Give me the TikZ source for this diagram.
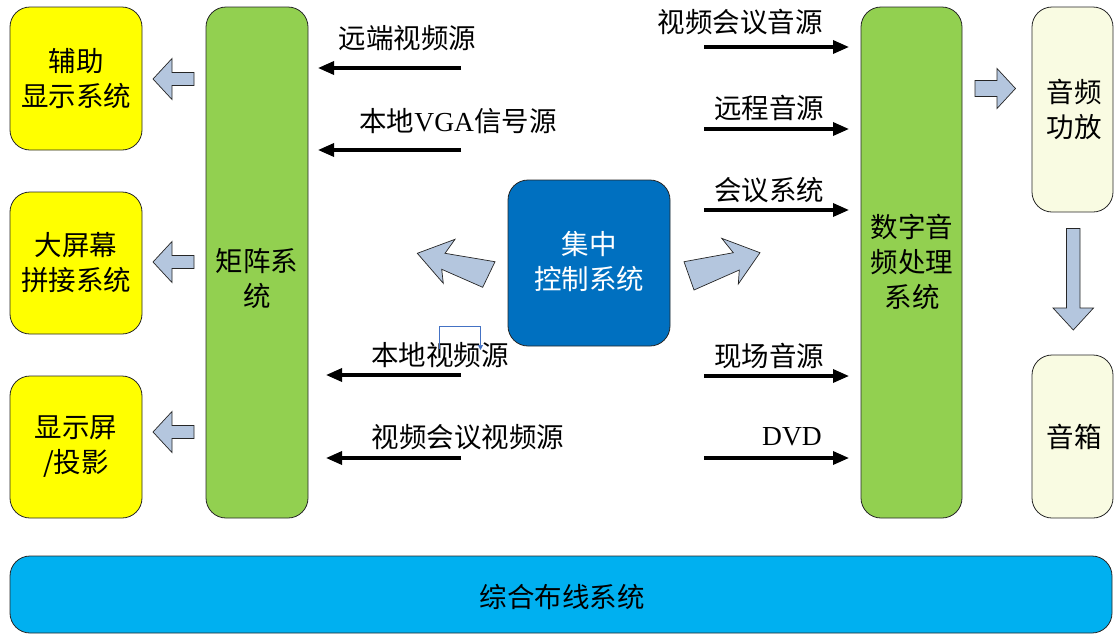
\documentclass[tikz,border=0pt]{standalone}
\usepackage{fontspec}
\setmainfont{Noto Sans CJK SC}
\newfontfamily\lat{Liberation Serif}
\usetikzlibrary{arrows.meta}
\definecolor{cyel}{RGB}{255,255,0}
\definecolor{cgreen}{RGB}{146,208,80}
\definecolor{cblue}{RGB}{0,112,192}
\definecolor{ccyan}{RGB}{0,176,240}
\definecolor{clight}{RGB}{249,251,226}
\definecolor{carrow}{RGB}{180,198,222}
\definecolor{cline}{RGB}{68,114,196}
\tikzset{
  box/.style={draw=black!85, line width=0.8pt, rounded corners=20pt, inner sep=0pt},
  txt/.style={font=\fontsize{27.5}{35}\selectfont, align=center, inner sep=0pt},
  sig/.style={line width=3.3pt, -{Triangle[length=16pt,width=13pt]}},
  blk/.style={draw=black!85, line width=0.7pt, fill=carrow, line join=miter},
}
\begin{document}
\begin{tikzpicture}[x=1pt,y=-1pt]
\useasboundingbox (0,0) rectangle (1114,635);
% left display boxes
\node[box, fill=cyel, minimum width=132pt, minimum height=143pt] (aux) at (76,78.5) {};
\node[txt] (auxt) at (aux.center) {辅助\\显示系统};
\node[box, fill=cyel, minimum width=132pt, minimum height=142pt] (big) at (76,263) {};
\node[txt] (bigt) at (big.center) {大屏幕\\拼接系统};
\node[box, fill=cyel, minimum width=132pt, minimum height=142pt] (scr) at (76,447) {};
\node[txt] (scrt) at (scr.center) {显示屏\\/投影};
% matrix
\node[box, fill=cgreen, minimum width=102pt, minimum height=511pt] (mat) at (257,262.5) {};
\node[txt] (matt) at (257,279) {矩阵系\\统};
% central control
\node[box, fill=cblue, minimum width=162pt, minimum height=166pt] (ctl) at (589,263) {};
\node[txt, text=white] (ctlt) at (589,261.5) {集中\\控制系统};
% dsp
\node[box, fill=cgreen, minimum width=101pt, minimum height=511pt] (dsp) at (911.5,262.5) {};
\node[txt] (dspt) at (912,262) {数字音\\频处理\\系统};
% amp and speaker
\node[box, fill=clight, minimum width=81pt, minimum height=205pt] (amp) at (1072.5,109.5) {};
\node[txt] (ampt) at (1074,109) {音频\\功放};
\node[box, fill=clight, minimum width=81pt, minimum height=163pt] (spk) at (1072.5,436.5) {};
\node[txt] (spkt) at (1074,437) {音箱};
% cabling
\node[box, fill=ccyan, minimum width=1102pt, minimum height=77pt] (cab) at (561,594.5) {};
\node[txt] (cabt) at (562,597) {综合布线系统};
% signal labels left
\node[txt] (l1) at (407.5,38) {远端视频源};
\node[txt] (l2) at (458,121) {本地{\lat VGA}信号源};
\node[txt] (l3) at (440,355) {本地视频源};
\node[txt] (l4) at (468,437) {视频会议视频源};
% signal labels right
\node[txt] (r1) at (740,22) {视频会议音源};
\node[txt] (r2) at (769,108) {远程音源};
\node[txt] (r3) at (769,190) {会议系统};
\node[txt] (r4) at (769,356) {现场音源};
\node[txt] (r5) at (792,437) {{\lat DVD}};
% signal arrows
\coordinate (a1s) at (461,68);  \coordinate (a1e) at (318,68);
\coordinate (a2s) at (461,150); \coordinate (a2e) at (318,150);
\coordinate (a3s) at (461,375); \coordinate (a3e) at (326,375);
\coordinate (a4s) at (461,458); \coordinate (a4e) at (326,458);
\draw[sig] (a1s) -- (a1e);
\draw[sig] (a2s) -- (a2e);
\draw[sig] (a3s) -- (a3e);
\draw[sig] (a4s) -- (a4e);
\coordinate (b1s) at (704,47);  \coordinate (b1e) at (849,47);
\coordinate (b2s) at (704,129); \coordinate (b2e) at (849,129);
\coordinate (b3s) at (704,210); \coordinate (b3e) at (849,210);
\coordinate (b4s) at (704,376); \coordinate (b4e) at (849,376);
\coordinate (b5s) at (704,458); \coordinate (b5e) at (849,458);
\draw[sig] (b1s) -- (b1e);
\draw[sig] (b2s) -- (b2e);
\draw[sig] (b3s) -- (b3e);
\draw[sig] (b4s) -- (b4e);
\draw[sig] (b5s) -- (b5e);
% left block arrows
\foreach \yy in {79,262,432}{
  \draw[blk] (153,\yy) -- (172,\yy-20.5) -- (172,\yy-6.5) -- (194,\yy-6.5) -- (194,\yy+6.5) -- (172,\yy+6.5) -- (172,\yy+20.5) -- cycle;
}
% right block arrow
\draw[blk] (975,80.5) -- (997,80.5) -- (997,68.5) -- (1015.5,88.5) -- (997,108.5) -- (997,96.5) -- (975,96.5) -- cycle;
% down block arrow
\draw[blk] (1066.5,228.5) -- (1080,228.5) -- (1080,308) -- (1093.5,308) -- (1073.3,330) -- (1053,308) -- (1066.5,308) -- cycle;
% curved arrows from control
\draw[blk] (417.3,253.3) -- (455,239.3) -- (445,253.3) -- (495,261.7) -- (482.7,287.3) -- (441.7,269.3) -- (443.3,283.3) -- cycle;
\draw[blk] (684,261.7) -- (733.3,252.7) -- (721.7,238.3) -- (760,252.7) -- (738.3,284) -- (739.3,270) -- (694,290) -- cycle;
% small blue connector mark
\coordinate (m1) at (439.5,349);
\coordinate (m2) at (439.5,326);
\coordinate (m3) at (480.5,326);
\coordinate (m4) at (480.5,350);
\draw[cline, line width=0.7pt, -{Triangle[length=5pt,width=5pt]}] (m1) -- (m2) -- (m3) -- (m4);
\end{tikzpicture}
\end{document}
